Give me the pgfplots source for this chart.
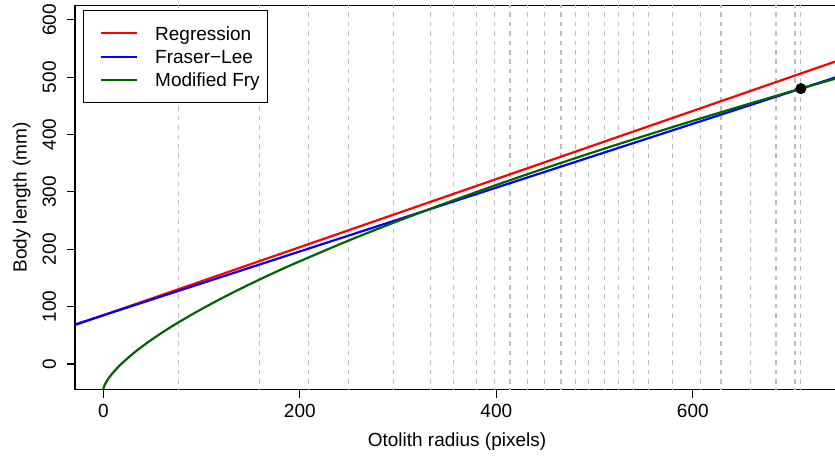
\documentclass[border=0pt]{standalone}
\usepackage{fontspec}
\setmainfont{Liberation Sans}
\usepackage{pgfplots}
\pgfplotsset{compat=1.18}
\definecolor{rgrey}{HTML}{BEBEBE}
\definecolor{rgreen}{HTML}{006400}

\begin{document}
\begin{tikzpicture}[font=\fontsize{19bp}{23bp}\selectfont]
\begin{axis}[
  scale only axis, width=764bp, height=384bp,
  xmin=-28.8, xmax=748.8, ymin=-44.8, ymax=624.8,
  axis line style={line width=1.2bp, black},
  tick style={line width=1.2bp, black},
  tick align=outside, major tick length=8bp,
  tick pos=left,
  xtick={0,200,400,600}, ytick={0,100,...,600},
  /pgf/number format/assume math mode=true,
  xticklabel style={anchor=base, yshift=-20.2bp},
  yticklabel style={xshift=-11bp, rotate=90, anchor=base},
  xlabel={Otolith radius (pixels)},
  ylabel={Body length (mm)},
  every axis x label/.style={at={(axis description cs:0.5,0)}, anchor=base, yshift=-57.2bp},
  every axis y label/.style={at={(axis description cs:0,0.5)}, xshift=-48.3bp, rotate=90, anchor=base},
  legend image code/.code={%
    \path (-9bp,0bp) (52.7bp,0bp);
    \draw[#1] (0bp,0bp) -- (36bp,0bp);},
  legend style={at={(0.01008,0.98854)}, anchor=north west,
    draw=black, line width=1.2bp, fill=white,
    inner xsep=8bp, inner ysep=16bp, row sep=9.7bp,
    cells={anchor=west},
    nodes={inner sep=0bp, text height=13.6bp, text depth=0bp}},
]
% observed capture size
\addplot[forget plot, only marks, mark=*, mark size=5.3bp, black] coordinates {(710,480)};
% annulus radii
\pgfplotsinvokeforeach{76.3,158.8,208.7,249.8,295.2,333.2,356.2,380.1,398.0,413.9,431.6,448.9,465.9,480.8,494.0,510.3,524.6,539.4,554.7,579.5,607.6,628.7,658.9,684.7,704.0,709.8}{
  \addplot[forget plot, rgrey, line width=1.2bp, dash pattern=on 4.7bp off 4.7bp] coordinates {(#1,-100) (#1,700)};
}
\addplot[red, line width=2.2bp] coordinates {(-40,61.05) (760,536.1)};
\addlegendentry{Regression}
\addplot[blue, line width=2.2bp] coordinates {(-40,62.5) (760,507.8)};
\addlegendentry{Fraser−Lee}
\addplot[rgreen, line width=2.2bp, smooth] coordinates {
  (0,-45) (0.25,-42.49) (0.5,-41.0) (1,-38.63) (2,-34.85) (3,-31.67) (5,-26.21)
  (7,-21.45) (10,-15.07) (15,-5.69) (20,2.69) (30,17.62) (40,30.99) (50,43.29)
  (65,60.3) (80,76.0) (100,95.6) (125,118.4) (150,139.7) (175,159.9) (200,179.0)
  (250,215.3) (300,249.2) (350,281.3) (400,312.0) (450,341.4) (500,369.8)
  (550,397.2) (600,423.9) (650,449.8) (700,475.1) (710,480.1) (750,499.8)};
\addlegendentry{Modified Fry}
\coordinate (bl) at (rel axis cs:0,0);
\coordinate (tr) at (rel axis cs:1,1);
\end{axis}
\pgfresetboundingbox
\useasboundingbox ([xshift=-75bp,yshift=-65.5bp]bl) rectangle ([xshift=-4bp,yshift=5.6bp]tr);
\end{tikzpicture}
\end{document}
